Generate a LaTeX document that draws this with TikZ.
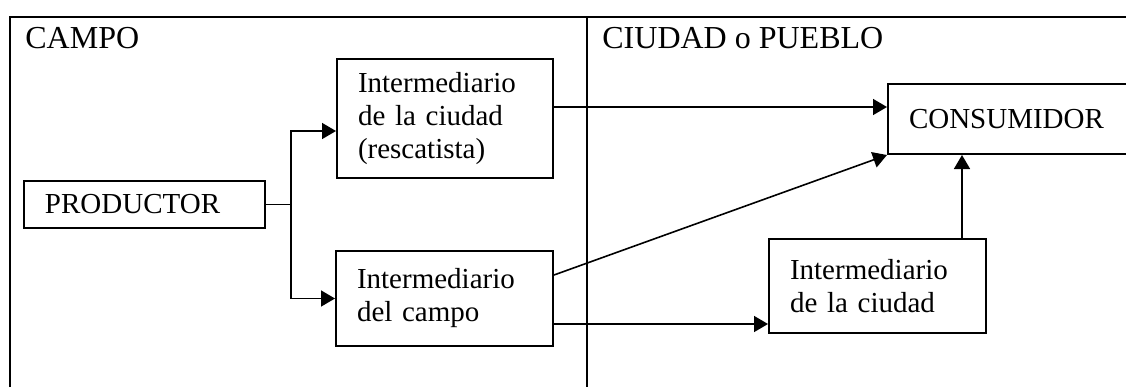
\documentclass[tikz,border=0pt]{standalone}
\usepackage{fontspec}
\setmainfont{Liberation Serif}
\usetikzlibrary{arrows.meta}
\tikzset{
  caja/.style={draw, rectangle, line width=1pt, inner xsep=10.5pt, inner ysep=0pt, align=left,
    font=\fontsize{14.5}{16.5}\selectfont},
  zona/.style={anchor=base west, inner sep=0pt, font=\fontsize{16}{18}\selectfont},
  marco/.style={line width=1pt},
  flecha/.style={line width=0.8pt, -{Triangle[length=7pt,width=8pt]}}
}

\begin{document}
\begin{tikzpicture}[x=0.5pt, y=-0.5pt]
\clip (0,0) rectangle (1126,387);
%% marco de la tabla
  \draw[marco] (10,387) -- (10,17) -- (1130,17);
  \draw[marco] (587,17) -- (587,387);
  \node[zona] (campo) at (25,48) {CAMPO};
  \node[zona] (ciudad) at (602,48) {CIUDAD o PUEBLO};
%% cajas
  \node[caja, text width=99.5pt, minimum height=23.5pt] (prod) at (144.5,204.5) {PRODUCTOR};
  \node[caja, text width=87pt, minimum height=59.5pt] (rescat) at (445,118.5)
    {Intermediario\\de la ciudad\\(rescatista)};
  \node[caja, text width=87.5pt, minimum height=47.5pt] (intcampo) at (444.5,298.5)
    {Intermediario\\del campo};
  \node[caja, text width=87.5pt, minimum height=47pt] (intciudad) at (877.5,286)
    {Intermediario\\de la ciudad};
  \node[caja, text width=105pt, minimum height=35pt] (consum) at (1014,119) {CONSUMIDOR};
%% flechas
  \draw[line width=0.8pt] (prod.east) -- ++(25,0) coordinate (rama);
  \draw[flecha] (rama) |- ([yshift=-6.25pt]rescat.west);
  \draw[flecha] (rama) |- (intcampo.west);
  \draw[flecha] ([yshift=5.75pt]rescat.east) -- ([yshift=5.75pt]rescat.east -| consum.west);
  \draw[flecha] ([yshift=11.75pt]intcampo.east) -- (consum.south west);
  \draw[flecha] ([yshift=-12.75pt]intcampo.east) -- ([yshift=-12.75pt]intcampo.east -| intciudad.west);
  \draw[flecha] ([xshift=42.25pt]intciudad.north) -- ([xshift=42.25pt]intciudad.north |- consum.south);
\end{tikzpicture}
\end{document}
